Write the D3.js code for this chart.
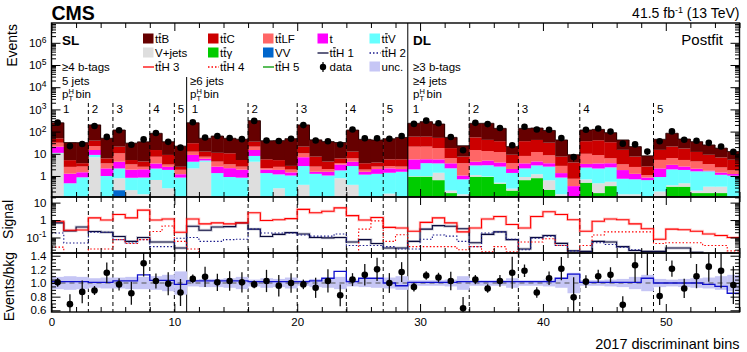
<!DOCTYPE html>
<html>
<head>
<meta charset="utf-8">
<script src="https://cdn.jsdelivr.net/npm/d3@7"></script>
<style>
  body { margin: 0; background: #fff; }
  text { font-family: "Liberation Sans", Arial, Helvetica, sans-serif; fill: #000; }
</style>
</head>
<body>
<div id="chart"></div>
<script>
// ---- values (postfit yields per 2017 discriminant bin) ----
var nBins = 56;
var procKeys = ["VV", "ttgamma", "Vjets", "ttV", "t", "ttLF", "ttC", "ttB"];   // stacking order bottom -> top

var yieldVV = [0,0,0,0,0,0.23,0,0,0,0, 0,0,0,0,0,0,0,0,0,0, 0,0,0,0,0,0,0,0,0,0,
  0,0,0,0,0,0,0,0,0,0, 0,0,0,0,0,0,0,0,0,0, 0,0,0,0,0,0];
var yieldTtgamma = [0,0,0,0,0,0,0,0,0,0, 0,0,0,0,0,0,0,0,0,0, 0,0,0,0,0,0,0,0,0,0.93,
  0.93,0.65,0.17,0.1,0.93,0.9,0.45,0.22,0.65,0.8, 0.24,0.1,0.05,0.5,0.17,0.35,0.1,0.1,0.05,0.1,
  0.33,0.33,0.17,0.17,0.17,0.05];
var yieldVjets = [10.5,0.05,0.1,7,0.1,0.56,0.23,0.15,0.66,0.28, 0.05,2.2,4.4,0.05,0.05,0.05,4.4,0.05,0.28,0.05,
  0.4,0.05,0.05,0.79,0.4,0.05,0.05,0.16,0.05,0.05, 0.05,0.75,0.05,0.05,0.17,0.05,0.05,0.05,0.25,0.4,
  0.4,0.05,0,0.2,0.3,0.2,0.05,0.05,0.05,0.1, 0.05,0.14,0.05,0.16,0.16,0.05];
var yieldTtV = [0.5,0.42,0.77,1.9,0.9,1.4,0.6,0.7,1.5,1.6, 0.8,2.2,0.6,1.3,0.85,0.79,3.6,1.3,0.9,1.0,
  2.4,1.2,1.0,1.0,2.4,1.1,1.2,1.24,1.5,1.0, 2.8,2.3,2.0,0.56,1.9,2.1,2.15,1.1,1.3,1.8,
  2.0,0.7,0.05,1.7,1.7,1.9,0.6,0.56,0.55,0.7, 1.6,1.4,1.4,1.3,0.8,0.93];
var yieldT = [10,0.8,0.6,5.9,1.2,2.2,1.1,1.15,1.5,0.7, 0.35,4.5,1.0,1.3,1.35,1.1,6.8,0.6,0.7,0.4,
  4.2,0.3,0.5,1.5,1.6,0.4,0.8,0.8,0.5,3.6, 1.9,1.9,1.5,0.34,1.4,1.9,1.4,0.7,1.5,1.5,
  1.1,0.5,0.25,1.1,1.5,1.3,1.1,0.54,0.2,1.3, 1.2,0.8,0.5,0.1,0.3,0.2];
var yieldTtLF = [10.6,1.3,1.2,7.2,1.5,6.1,1.4,0.6,3.7,0.7, 0.7,3.6,1.4,1.8,1.1,0.7,6.2,0.3,0.7,0.5,
  3.5,1.1,0.5,0.5,1.8,0.4,0.6,0.6,0.6,15.4, 15.4,12.4,2.6,2.7,10.4,8.4,7.9,1.7,4.3,7.5,
  4.8,1.5,0.4,6.5,5,2.5,1.5,1.3,0.25,3.1, 3.2,2.6,2.4,1.7,1.0,0.57];
var yieldTtC = [18,2.6,1.1,17,2.5,10.5,1.9,1.9,7.4,5.6, 0.7,17.5,5.1,6.6,7.2,2.6,14,3.4,2.6,0.9,
  10.5,4.8,2.4,2.4,6.3,1.8,1.4,2.8,3,38, 38,34,11.7,3.7,40,29,25,5.3,29,30,
  23,4.6,3.3,27,32,27,11.7,4.9,1.6,9.7, 14.7,12,7.6,5.6,4.4,3.6];
var yieldTtB = [200,27,28,161,44,97,25,30,69,26, 19.4,220,37.5,52,39.5,40,275,33,34,45,
  179,35,31,26,105,41,38,42,49,177, 221,168,37,15.6,181,194,103,12,103,103,
  81,34.6,5,81,85,56,27,13.6,5.4,30, 63,29,23,16,11.2,7.2];

// data / background and (signal+background) / background, ratio panel
var dataOverBkg = [1.01,0.69,0.87,0.89,1.15,0.98,0.85,1.29,1.03,0.99, 0.86,1.06,1.09,1.01,1.03,1.01,0.98,1.03,0.96,1.0,
  0.98,0.93,1.03,0.82,1.05,1.12,1.2,1.0,1.16,0.94, 1.11,1.08,1.03,0.63,1.05,0.92,1.03,1.15,1.18,0.86,
  1.07,1.21,0.79,1.02,1.1,1.12,0.68,1.26,1.55,0.81, 1.21,0.92,1.1,1.24,1.18,0.97];
var sigOverBkg = [1.02,1.02,1.02,1.01,1.01,1.03,1.03,1.12,1.04,1.04, 0.98,1.03,1.03,1.03,1.03,1.03,1.02,1.02,1.02,1.02,
  1.02,1.03,1.07,1.17,1.02,1.07,1.07,1.0,0.96,1.01, 1.01,1.01,1.01,1.02,1.02,1.02,1.02,1.02,1.02,1.02,
  1.02,1.07,1.13,1.01,1.01,1.01,1.01,1.01,1.07,1.0, 1.0,1.0,1.0,0.98,0.95,0.85];
var bkgUnc = [0.09,0.1,0.09,0.07,0.08,0.08,0.09,0.09,0.1,0.12, 0.17,0.05,0.06,0.06,0.07,0.09,0.05,0.07,0.06,0.08,
  0.04,0.06,0.07,0.09,0.05,0.06,0.07,0.08,0.1,0.04, 0.04,0.04,0.05,0.1,0.04,0.04,0.04,0.07,0.04,0.04,
  0.05,0.07,0.15,0.04,0.04,0.05,0.06,0.09,0.12,0.06, 0.05,0.06,0.07,0.08,0.1,0.12];

// ttH signal per STXS pT(H) bin, signal panel
var sigTtH1 = [0.69,0.24,0.4,0.22,0.2,0.115,0.06,0.1,0.055,0.055, 0.025,0.44,0.26,0.4,0.42,0.69,0.3,0.115,0.15,0.19,
  0.16,0.1,0.095,0.1,0.055,0.075,0.045,0.025,0.025,0.06, 0.3,0.48,0.44,0.32,0.05,0.15,0.21,0.075,0.022,0.1,
  0.13,0.046,0.017,0.016,0.06,0.055,0.03,0.018,0.016,0.016, 0.025,0.025,0.014,0.01,0.01,0.01];
var sigTtH2 = [0.18,0.048,0.048,0.2,0.2,0.075,0.048,0.075,0.03,0.03, 0.09,0.1,0.06,0.06,0.075,0.08,0.3,0.18,0.18,0.18,
  0.14,0.12,0.12,0.16,0.035,0.035,0.035,0.03,0.022,0.022, 0.08,0.14,0.12,0.06,0.03,0.18,0.21,0.08,0.02,0.09,
  0.12,0.035,0.017,0.01,0.05,0.04,0.028,0.02,0.01,0.01, 0.01,0.01,0.01,0.01,0.01,0.01];
var sigTtH3 = [0.85,0.26,0.27,1.34,1.0,2.1,1.34,3.7,1.0,1.15, 0.2,1.15,0.6,0.69,0.6,0.69,2.6,0.95,1.05,1.2,
  4.1,2.6,3.2,5.0,1.8,1.0,1.4,0.38,0.35,0.23, 0.74,1.34,0.69,0.21,0.35,1.15,1.6,0.56,0.35,1.6,
  3.0,2.1,1.05,0.23,0.85,1.15,1.05,0.6,0.32,0.08, 0.3,0.28,0.23,0.16,0.13,0.1];
var sigTtH4 = [0.028,0.01,0.01,0.022,0.022,0.075,0.045,0.075,0.22,0.46, 0.06,0.022,0.01,0.01,0.01,0.01,0.01,0.01,0.01,0.01,
  0.01,0.01,0.01,0.01,0.01,0.3,0.9,0.06,0.145,0.03, 0.03,0.03,0.03,0.02,0.03,0.015,0.03,0.015,0.055,0.055,
  0.085,0.035,0.01,0.035,0.14,0.21,0.21,0.21,0.21,0.045, 0.05,0.05,0.05,0.035,0.035,0.017];
var sigTtH5 = [0.005,0.005,0.005,0.005,0.005,0.005,0.005,0.005,0.005,0.005, 0.005,0.005,0.005,0.005,0.005,0.005,0.005,0.005,0.005,0.005,
  0.005,0.005,0.005,0.005,0.005,0.005,0.005,0.005,0.005,0.005, 0.005,0.005,0.005,0.005,0.005,0.005,0.005,0.005,0.005,0.005,
  0.005,0.005,0.005,0.005,0.005,0.005,0.005,0.005,0.005,0.005, 0.005,0.005,0.005,0.005,0.005,0.005];

// category boundaries and pT(H) bin labels
var catEdges = [11, 29];
var ptEdges = [3, 5, 8, 10, 16, 20, 24, 27, 34, 38, 43, 49];
var ptEdgeLabels = ["2", "3", "4", "5", "2", "3", "4", "5", "2", "3", "4", "5"];
var xTickLabels = [0, 10, 20, 30, 40, 50];

// ---- styles ----
var procColor = { ttB: "#660000", ttC: "#cc0000", ttLF: "#ff6666", t: "#ff00ff", ttV: "#66ffff",
  Vjets: "#dedede", ttgamma: "#00cc00", VV: "#0066cc" };
var yields = { VV: yieldVV, ttgamma: yieldTtgamma, Vjets: yieldVjets, ttV: yieldTtV, t: yieldT,
  ttLF: yieldTtLF, ttC: yieldTtC, ttB: yieldTtB };
var sigLines = [
  { v: sigTtH1, color: "#0a0a3c", dash: null },
  { v: sigTtH2, color: "#1a1a8c", dash: "1.5,2" },
  { v: sigTtH3, color: "#ff0000", dash: null },
  { v: sigTtH4, color: "#ff0000", dash: "1.5,2" },
  { v: sigTtH5, color: "#009900", dash: null }
];

var W = 747, H = 352;
var X0 = 51.5, X1 = 739.5;
var P1 = [23, 197], P2 = [197, 253], P3 = [253, 312];

var svg = d3.select("#chart").append("svg").attr("width", W).attr("height", H);

var x = d3.scaleLinear().domain([0, nBins]).range([X0, X1]);
var yTop = d3.scaleLog().domain([0.113, 7.8e6]).range([P1[1], P1[0]]);
var ySig = d3.scaleLog().domain([0.0129, 21]).range([P2[1], P2[0]]);
var yRat = d3.scaleLinear().domain([0.575, 1.44]).range([P3[1], P3[0]]);

var defs = svg.append("defs");
[P1, P2, P3].forEach(function (p, k) {
  defs.append("clipPath").attr("id", "clip" + k).append("rect")
    .attr("x", X0).attr("y", p[0]).attr("width", X1 - X0).attr("height", p[1] - p[0]);
});

// ---- top panel: stacked backgrounds ----
var rows = d3.range(nBins).map(function (i) {
  var r = {};
  procKeys.forEach(function (k) { r[k] = yields[k][i]; });
  return r;
});
var stacked = d3.stack().keys(procKeys)(rows);
var totals = rows.map(function (r) { return d3.sum(procKeys, function (k) { return r[k]; }); });
var yMin = yTop.domain()[0];

var gTop = svg.append("g").attr("clip-path", "url(#clip0)");
stacked.forEach(function (layer) {
  gTop.append("g").selectAll("rect").data(layer).join("rect")
    .attr("x", function (d, i) { return x(i); })
    .attr("width", x(1) - x(0) + 0.4)
    .attr("y", function (d) { return yTop(Math.max(d[1], yMin)); })
    .attr("height", function (d) { return Math.max(0, yTop(Math.max(d[0], yMin)) - yTop(Math.max(d[1], yMin))); })
    .attr("fill", procColor[layer.key]);
});

var step = d3.line().curve(d3.curveStepAfter);
var totPts = totals.map(function (v, i) { return [x(i), yTop(v)]; });
totPts.push([x(nBins), yTop(totals[nBins - 1])]);
gTop.append("path").attr("d", step(totPts)).attr("fill", "none").attr("stroke", "#1a0000").attr("stroke-width", 0.8);

// separators
catEdges.forEach(function (b, k) {
  svg.append("line").attr("x1", x(b)).attr("x2", x(b)).attr("y1", k === 0 ? 77 : P1[0]).attr("y2", P3[1])
    .attr("stroke", "#000").attr("stroke-width", 1);
});
ptEdges.forEach(function (b) {
  svg.append("line").attr("x1", x(b)).attr("x2", x(b)).attr("y1", 103).attr("y2", P1[1])
    .attr("stroke", "#000").attr("stroke-width", 1).attr("stroke-dasharray", "4,3");
  svg.append("line").attr("x1", x(b)).attr("x2", x(b)).attr("y1", P2[0]).attr("y2", P3[1])
    .attr("stroke", "#000").attr("stroke-width", 1).attr("stroke-dasharray", "4,3");
});

// data points in top panel
var dataN = totals.map(function (t, i) { return t * dataOverBkg[i]; });
var gData = svg.append("g").attr("clip-path", "url(#clip0)");
dataN.forEach(function (n, i) {
  var e = Math.sqrt(n);
  gData.append("line").attr("x1", x(i + 0.5)).attr("x2", x(i + 0.5))
    .attr("y1", yTop(n + e)).attr("y2", yTop(Math.max(n - e, yMin)))
    .attr("stroke", "#000").attr("stroke-width", 1.2);
  gData.append("circle").attr("cx", x(i + 0.5)).attr("cy", yTop(n)).attr("r", 3.3).attr("fill", "#000");
});

// ---- signal panel ----
var gSig = svg.append("g").attr("clip-path", "url(#clip1)");
sigLines.forEach(function (s) {
  var pts = s.v.map(function (v, i) { return [x(i), ySig(v)]; });
  pts.push([x(nBins), ySig(s.v[nBins - 1])]);
  if (!s.dash) {
    gSig.append("path").attr("d", step(pts)).attr("fill", "none")
      .attr("stroke", s.color).attr("stroke-opacity", 0.2).attr("stroke-width", 2.8);
  }
  gSig.append("path").attr("d", step(pts)).attr("fill", "none")
    .attr("stroke", s.color).attr("stroke-width", 1.1).attr("stroke-dasharray", s.dash);
});

// ---- ratio panel ----
var gRat = svg.append("g").attr("clip-path", "url(#clip2)");
gRat.selectAll("rect.unc").data(bkgUnc).join("rect").attr("class", "unc")
  .attr("x", function (d, i) { return x(i); }).attr("width", x(1) - x(0) + 0.4)
  .attr("y", function (d) { return yRat(1 + d); })
  .attr("height", function (d) { return yRat(1 - d) - yRat(1 + d); })
  .attr("fill", "#c6c6f5");
gRat.append("line").attr("x1", X0).attr("x2", X1).attr("y1", yRat(1)).attr("y2", yRat(1))
  .attr("stroke", "#555").attr("stroke-width", 1.2).attr("stroke-dasharray", "5,4");
var sbPts = sigOverBkg.map(function (v, i) { return [x(i), yRat(v)]; });
sbPts.push([x(nBins), yRat(sigOverBkg[nBins - 1])]);
gRat.append("path").attr("d", step(sbPts)).attr("fill", "none").attr("stroke", "#1010cc").attr("stroke-width", 1.3);
dataOverBkg.forEach(function (r, i) {
  var e = Math.sqrt(dataN[i]) / totals[i];
  gRat.append("line").attr("x1", x(i + 0.5)).attr("x2", x(i + 0.5))
    .attr("y1", yRat(r + e)).attr("y2", yRat(r - e)).attr("stroke", "#111").attr("stroke-width", 1.3);
  gRat.append("circle").attr("cx", x(i + 0.5)).attr("cy", yRat(r)).attr("r", 3.3).attr("fill", "#000");
});

// ---- frames and axes ----
function logTicks(scale) {
  var d = scale.domain(), maj = [], min = [];
  for (var e = Math.floor(Math.log10(d[0])); e <= Math.ceil(Math.log10(d[1])); e++) {
    for (var k = 1; k < 10; k++) {
      var v = k * Math.pow(10, e);
      if (v >= d[0] && v <= d[1]) (k === 1 ? maj : min).push(+v.toPrecision(6));
    }
  }
  return [maj, min];
}
function supLabels(sel) {
  sel.selectAll(".tick text").each(function (d) {
    var e = Math.round(Math.log10(d)), t = d3.select(this);
    if (e === 0) t.text("1");
    else if (e === 1) t.text("10");
    else {
      t.text("10");
      t.append("tspan").attr("dy", "-0.5em").style("font-size", "8.5px").text(e);
    }
  });
}
function yAxes(scale, maj, min, fmt) {
  var gl = svg.append("g").attr("transform", "translate(" + X0 + ",0)")
    .call(d3.axisLeft(scale).tickValues(maj).tickSize(-9).tickPadding(5).tickFormat(fmt));
  svg.append("g").attr("transform", "translate(" + X0 + ",0)")
    .call(d3.axisLeft(scale).tickValues(min).tickSize(-4.5).tickFormat(""));
  svg.append("g").attr("transform", "translate(" + X1 + ",0)")
    .call(d3.axisRight(scale).tickValues(maj).tickSize(-9).tickFormat(""));
  svg.append("g").attr("transform", "translate(" + X1 + ",0)")
    .call(d3.axisRight(scale).tickValues(min).tickSize(-4.5).tickFormat(""));
  return gl;
}
var xMaj = xTickLabels, xMin = d3.range(2, nBins + 1, 2).filter(function (v) { return v % 10 !== 0; });
function xAxes(p, withLabels) {
  svg.append("g").attr("transform", "translate(0," + p[1] + ")")
    .call(d3.axisBottom(x).tickValues(xMaj).tickSize(-8).tickPadding(6).tickFormat(withLabels ? d3.format("d") : ""));
  svg.append("g").attr("transform", "translate(0," + p[1] + ")")
    .call(d3.axisBottom(x).tickValues(xMin).tickSize(-5).tickFormat(""));
  svg.append("g").attr("transform", "translate(0," + p[0] + ")")
    .call(d3.axisTop(x).tickValues(xMaj).tickSize(-8).tickFormat(""));
  svg.append("g").attr("transform", "translate(0," + p[0] + ")")
    .call(d3.axisTop(x).tickValues(xMin).tickSize(-5).tickFormat(""));
}

var lt = logTicks(yTop);
supLabels(yAxes(yTop, lt[0], lt[1], function (d) { return d; }));
var ls = logTicks(ySig);
supLabels(yAxes(ySig, ls[0], ls[1], function (d) { return d; }));
var rMaj = [0.6, 0.8, 1.0, 1.2, 1.4];
var rMin = d3.range(0.6, 1.44, 0.05).map(function (v) { return +v.toFixed(2); })
  .filter(function (v) { return rMaj.indexOf(v) < 0; });
yAxes(yRat, rMaj, rMin, d3.format(".1f"));
xAxes(P1, false);
xAxes(P2, false);
xAxes(P3, true);

svg.selectAll(".domain").remove();
svg.selectAll(".tick line").attr("stroke", "#000").attr("stroke-width", 1);
svg.selectAll(".tick text").style("font-size", "11.5px").style("font-family", "Liberation Sans, Arial, sans-serif");
[P1, P2, P3].forEach(function (p) {
  svg.append("rect").attr("x", X0).attr("y", p[0]).attr("width", X1 - X0).attr("height", p[1] - p[0])
    .attr("fill", "none").attr("stroke", "#000").attr("stroke-width", 1.4);
});

// ---- texts ----
function txt(x0, y0, s, size, opts) {
  opts = opts || {};
  return svg.append("text").attr("x", x0).attr("y", y0).style("font-size", size + "px")
    .style("font-weight", opts.bold ? "bold" : null).attr("text-anchor", opts.anchor || "start").text(s);
}
// "tt" with an overline on the second t
function ttText(x0, y0, rest, size) {
  var t = txt(x0, y0, "tt" + rest, size);
  var n = t.node(), s = n.getStartPositionOfChar(1), e = n.getEndPositionOfChar(1);
  svg.append("line").attr("x1", s.x + 0.4).attr("x2", e.x - 0.2)
    .attr("y1", y0 - size * 0.8).attr("y2", y0 - size * 0.8).attr("stroke", "#000").attr("stroke-width", 1);
  return t;
}
function ptLabel(x0, y0) {
  txt(x0, y0, "p", 11.5);
  txt(x0 + 6.6, y0 - 4.5, "H", 7.5);
  txt(x0 + 6.6, y0 + 3.2, "T", 7.5);
  txt(x0 + 13.5, y0, "bin", 11.5);
}

txt(X0, 19.5, "CMS", 19.5, { bold: true });
var lumi = txt(X1, 18, "41.5 fb", 14, { anchor: "end" });
lumi.append("tspan").attr("dy", -5).style("font-size", "9px").text("-1");
lumi.append("tspan").attr("dy", 5).text(" (13 TeV)");

svg.append("text").attr("transform", "translate(17," + (P1[0] + 1) + ") rotate(-90)")
  .attr("text-anchor", "end").style("font-size", "14px").text("Events");
svg.append("text").attr("transform", "translate(13," + (P2[0] + 3) + ") rotate(-90)")
  .attr("text-anchor", "end").style("font-size", "14px").text("Signal");
svg.append("text").attr("transform", "translate(13.5," + (P3[0] - 1) + ") rotate(-90)")
  .attr("text-anchor", "end").style("font-size", "14px").text("Events/bkg");
txt(X1, 349, "2017 discriminant bins", 14.5, { anchor: "end" });

txt(62, 45, "SL", 13.5, { bold: true });
txt(413, 45, "DL", 13.5, { bold: true });
txt(723, 44.5, "Postfit", 15, { anchor: "end" });

txt(62, 71, "\u22654 b-tags", 11.5);
txt(62, 85, "5 jets", 11.5);
ptLabel(62, 98);
txt(190, 85, "\u22656 jets", 11.5);
ptLabel(190, 98);
txt(413, 71, "\u22653 b-tags", 11.5);
txt(413, 85, "\u22654 jets", 11.5);
ptLabel(413, 98);

txt(63, 113, "1", 11.5);
txt(x(catEdges[0]) + 5, 113, "1", 11.5);
txt(x(catEdges[1]) + 5, 113, "1", 11.5);
ptEdges.forEach(function (b, i) { txt(x(b) + 3.5, 113, ptEdgeLabels[i], 11.5); });

// ---- legend ----
var legCols = [143, 208, 263, 317.5, 369.5];
var legRows = [43, 57, 71];
var legend = [
  [{ k: "fill", c: procColor.ttB, tt: "B" }, { k: "fill", c: procColor.ttC, tt: "C" }, { k: "fill", c: procColor.ttLF, tt: "LF" },
   { k: "fill", c: procColor.t, s: "t" }, { k: "fill", c: procColor.ttV, tt: "V" }],
  [{ k: "fill", c: procColor.Vjets, s: "V+jets" }, { k: "fill", c: procColor.ttgamma, tt: "\u03b3" }, { k: "fill", c: procColor.VV, s: "VV" },
   { k: "line", c: sigLines[0].color, tt: "H 1" }, { k: "line", c: sigLines[1].color, d: "1.5,2", tt: "H 2" }],
  [{ k: "line", c: sigLines[2].color, tt: "H 3" }, { k: "line", c: sigLines[3].color, d: "1.5,2", tt: "H 4" },
   { k: "line", c: sigLines[4].color, tt: "H 5" }, { k: "data", s: "data" }, { k: "fill", c: "#c6c6f5", s: "unc." }]
];
legend.forEach(function (row, r) {
  row.forEach(function (it, c) {
    var lx = legCols[c], ly = legRows[r];
    if (it.k === "fill") {
      svg.append("rect").attr("x", lx).attr("y", ly - 9.5).attr("width", 10.5).attr("height", 10).attr("fill", it.c);
    } else if (it.k === "line") {
      svg.append("line").attr("x1", lx).attr("x2", lx + 11).attr("y1", ly - 4).attr("y2", ly - 4)
        .attr("stroke", it.c).attr("stroke-width", 1.3).attr("stroke-dasharray", it.d || null);
    } else {
      svg.append("line").attr("x1", lx + 5.5).attr("x2", lx + 5.5).attr("y1", ly - 9).attr("y2", ly + 1)
        .attr("stroke", "#000").attr("stroke-width", 1.2);
      svg.append("circle").attr("cx", lx + 5.5).attr("cy", ly - 4).attr("r", 3.2).attr("fill", "#000");
    }
    if (it.tt) ttText(lx + 12, ly, it.tt, 11.5);
    else txt(lx + 12, ly, it.s, 11.5);
  });
});
</script>
</body>
</html>
